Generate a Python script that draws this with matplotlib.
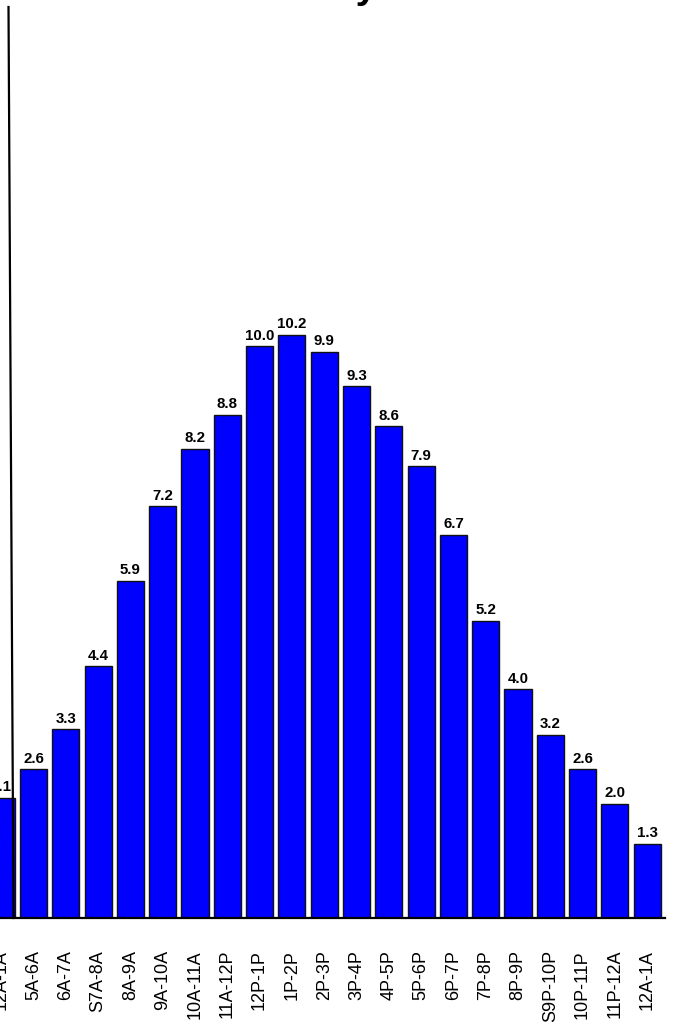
import numpy as np
import matplotlib
matplotlib.use("Agg")
import matplotlib.pyplot as plt
from matplotlib.lines import Line2D

# hourly shares (the left part of the original chart is cropped away)
hours = ["12A-1A", "5A-6A", "6A-7A", "S7A-8A", "8A-9A", "9A-10A", "10A-11A",
         "11A-12P", "12P-1P", "1P-2P", "2P-3P", "3P-4P", "4P-5P", "5P-6P",
         "6P-7P", "7P-8P", "8P-9P", "S9P-10P", "10P-11P", "11P-12A", "12A-1A"]
values = [2.1, 2.6, 3.3, 4.4, 5.9, 7.2, 8.2, 8.8, 10.0, 10.2, 9.9, 9.3,
          8.6, 7.9, 6.7, 5.2, 4.0, 3.2, 2.6, 2.0, 1.3]

W, H = 673, 1029
fig = plt.figure(figsize=(W / 100, H / 100), dpi=100)

# axes extends past the left edge so the first bar is cut like the reference
px_per_cat = 32.3
x_lo, x_hi = -0.6, 20.54
left_px = (x_lo + 0.037) * px_per_cat
width_px = (x_hi - x_lo) * px_per_cat
base_px = 918
y_top = 16
height_px = 57.2 * y_top
ax = fig.add_axes([left_px / W, (H - base_px) / H, width_px / W, height_px / H])

x = np.arange(len(hours))
bars = ax.bar(x, values, width=0.84, color="#0000ff", edgecolor="#111111",
              linewidth=1.0)

for b, v in zip(bars, values):
    ax.annotate(f"{v:.1f}", (b.get_x() + b.get_width() / 2, v),
                xytext=(0, 2.5), textcoords="offset points",
                ha="center", va="bottom", fontsize=10.8, fontweight="bold",
                family="Liberation Sans")

ax.set_xlim(x_lo, x_hi)
ax.set_ylim(0, y_top)
ax.set_xticks(x)
ax.set_xticklabels(hours, rotation=90, fontsize=13, family="Liberation Sans")
ax.tick_params(axis="x", length=0, pad=23)
ax.set_yticks([])
for s in ["top", "right", "left"]:
    ax.spines[s].set_visible(False)
ax.spines["bottom"].set_linewidth(1.6)

# stray vertical rule on the left
fig.add_artist(Line2D([8.5 / W, 13.5 / W], [1 - 7 / H, 1 - 918 / H],
                      color="black", linewidth=1.6))

# title mostly cut off at the top
fig.text(378 / W, 1 + 2.5 / H, "Hourly", ha="right", va="baseline",
         fontsize=28, fontweight="bold", family="Liberation Sans")

fig.savefig("out.png", dpi=100)
